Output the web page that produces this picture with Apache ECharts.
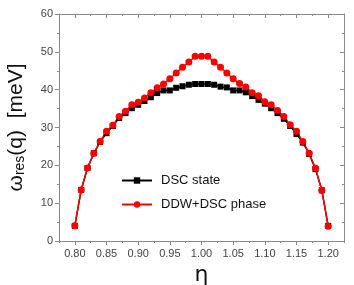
<!DOCTYPE html>
<html><head><meta charset="utf-8">
<script src="https://cdn.jsdelivr.net/npm/echarts@6/dist/echarts.min.js"></script>
<style>html,body{margin:0;padding:0;background:#fff}#c{width:354px;height:285px}</style>
</head><body><div id="c"></div>
<script>
const eta = [0.80,0.81,0.82,0.83,0.84,0.85,0.86,0.87,0.88,0.89,0.90,0.91,0.92,0.93,0.94,0.95,0.96,0.97,0.98,0.99,1.00,
             1.01,1.02,1.03,1.04,1.05,1.06,1.07,1.08,1.09,1.10,1.11,1.12,1.13,1.14,1.15,1.16,1.17,1.18,1.19,1.20];
const dscState = [4.0,13.5,19.3,23.2,26.2,28.5,30.4,32.5,33.8,35.1,36.0,37.0,38.0,39.1,39.8,39.8,40.5,40.9,41.3,41.5,41.5,
                  41.5,41.3,40.8,40.6,39.8,39.8,39.3,38.3,37.3,36.3,35.1,33.8,32.3,30.4,28.3,26.0,23.0,19.0,13.4,4.0];
const ddwDscPhase = [4.0,13.5,19.3,23.2,26.3,29.0,30.6,32.9,34.3,36.0,36.7,37.8,39.2,40.5,41.5,42.9,44.4,45.9,47.3,48.8,48.8,
                     48.8,47.3,45.9,44.4,42.9,41.6,40.7,39.2,38.4,36.8,36.0,34.5,32.9,30.7,29.0,26.3,23.2,19.2,13.4,3.9];
const xMajorTicks = [0.80,0.85,0.90,0.95,1.00,1.05,1.10,1.15,1.20];
const xMinorTicks = [0.775,0.825,0.875,0.925,0.975,1.025,1.075,1.125,1.175,1.225];
const seriesNames = ['DSC state','DDW+DSC phase'];

const axisCol = '#8a8a8a';
const font = 'Liberation Sans';
const chart = echarts.init(document.getElementById('c'), null, {renderer:'canvas'});
const xBase = (pos) => ({type:'value', min:0.775, max:1.225, position:pos, gridIndex:0,
  splitLine:{show:false}});
chart.setOption({
  animation:false,
  grid:{left:59, right:10, top:14, bottom:44, outerBoundsMode:'none', containLabel:false},
  legend:{
    orient:'vertical', left:116, top:169, itemGap:11, itemWidth:30, itemHeight:8,
    textStyle:{fontFamily:font, fontSize:13, color:'#111', padding:[0,0,0,4]},
    data:seriesNames
  },
  xAxis:[
    Object.assign(xBase('bottom'), {
      name:'η', nameLocation:'middle', nameGap:14,
      nameTextStyle:{fontFamily:'DejaVu Sans', fontSize:22, color:'#111'},
      axisLine:{show:true, lineStyle:{color:axisCol, width:1}},
      axisTick:{show:true, customValues:xMajorTicks, length:4, inside:false, lineStyle:{color:axisCol}},
      axisLabel:{show:true, customValues:xMajorTicks, margin:7, fontFamily:font, fontSize:11, color:'#444',
                 formatter:v=>v.toFixed(2)}
    }),
    Object.assign(xBase('bottom'), {
      axisLine:{show:false},
      axisTick:{show:true, customValues:xMinorTicks, length:2, lineStyle:{color:axisCol}},
      axisLabel:{show:false}
    }),
    Object.assign(xBase('top'), {
      axisLine:{show:true, lineStyle:{color:axisCol, width:1}},
      axisTick:{show:true, customValues:xMajorTicks, length:4, inside:true, lineStyle:{color:axisCol}},
      axisLabel:{show:false}
    }),
    Object.assign(xBase('top'), {
      axisLine:{show:false},
      axisTick:{show:true, customValues:xMinorTicks, length:2, inside:true, lineStyle:{color:axisCol}},
      axisLabel:{show:false}
    })
  ],
  yAxis:[
    {type:'value', min:0, max:60, interval:10, position:'left',
     name:'{a|ω}{b|res}{a|(q)  [meV]}', nameLocation:'middle', nameGap:30, nameRotate:90,
     nameTextStyle:{fontFamily:font, color:'#111',
       rich:{a:{fontFamily:font, fontSize:21, color:'#111', lineHeight:26},
             b:{fontFamily:font, fontSize:14, color:'#111', lineHeight:26, padding:[9,0,0,0]}}},
     axisLine:{show:true, lineStyle:{color:axisCol, width:1}},
     axisTick:{show:true, length:4, inside:false, lineStyle:{color:axisCol}},
     minorTick:{show:true, splitNumber:2, length:2, lineStyle:{color:axisCol}},
     axisLabel:{margin:6, fontFamily:font, fontSize:11, color:'#444'},
     splitLine:{show:false}, minorSplitLine:{show:false}},
    {type:'value', min:0, max:60, interval:10, position:'right',
     axisLine:{show:true, lineStyle:{color:axisCol, width:1}},
     axisTick:{show:true, length:4, inside:true, lineStyle:{color:axisCol}},
     minorTick:{show:true, splitNumber:2, length:2, lineStyle:{color:axisCol}},
     axisLabel:{show:false}, splitLine:{show:false}}
  ],
  series:[
    {name:seriesNames[0], type:'line', xAxisIndex:0, yAxisIndex:0,
     data:eta.map((x,i)=>[x,dscState[i]]),
     symbol:'rect', symbolSize:6, showAllSymbol:true,
     lineStyle:{color:'#000', width:1.5}, itemStyle:{color:'#000'}},
    {name:seriesNames[1], type:'line', xAxisIndex:0, yAxisIndex:0,
     data:eta.map((x,i)=>[x,ddwDscPhase[i]]),
     symbol:'circle', symbolSize:7, showAllSymbol:true,
     lineStyle:{color:'#ff0000', width:1.5}, itemStyle:{color:'#ff0000'}}
  ]
});
</script></body></html>
